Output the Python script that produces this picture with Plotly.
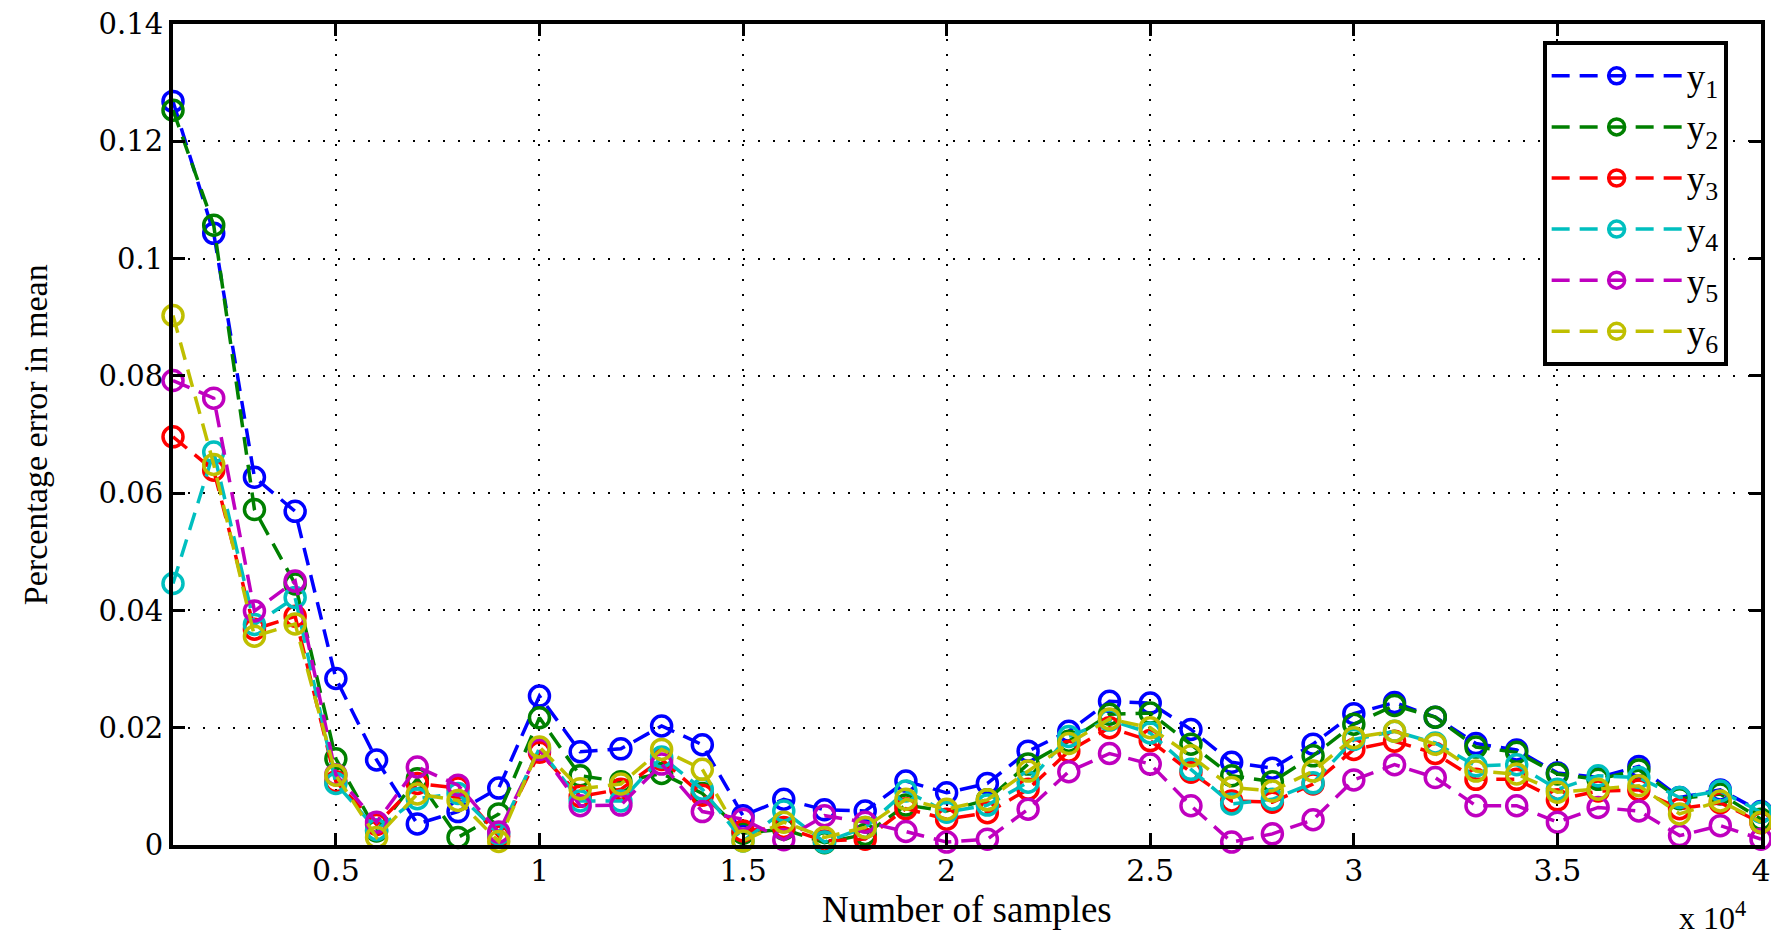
import plotly.graph_objects as go

samples = [1000 * k for k in range(1, 41)]

y1 = [0.1268, 0.1043, 0.0627, 0.0569, 0.0284, 0.0145, 0.0036, 0.0057, 0.0097, 0.0254,
      0.0159, 0.0164, 0.0203, 0.0171, 0.0050, 0.0078, 0.0060, 0.0058, 0.0109, 0.0089,
      0.0105, 0.0160, 0.0194, 0.0245, 0.0242, 0.0197, 0.0141, 0.0131, 0.0172, 0.0224,
      0.0243, 0.0218, 0.0173, 0.0162, 0.0123, 0.0115, 0.0134, 0.0081, 0.0094, 0.0057]
y2 = [0.1253, 0.1057, 0.0572, 0.0445, 0.0147, 0.0024, 0.0113, 0.0013, 0.0053, 0.0217,
      0.0118, 0.0108, 0.0122, 0.0088, 0.0020, 0.0027, 0.0004, 0.0018, 0.0068, 0.0058,
      0.0077, 0.0138, 0.0177, 0.0223, 0.0225, 0.0172, 0.0118, 0.0108, 0.0152, 0.0206,
      0.0238, 0.0218, 0.0167, 0.0158, 0.0121, 0.0112, 0.0128, 0.0079, 0.0087, 0.0044]
y3 = [0.0696, 0.0639, 0.0368, 0.0390, 0.0108, 0.0035, 0.0105, 0.0097, 0.0015, 0.0158,
      0.0083, 0.0095, 0.0146, 0.0085, 0.0024, 0.0030, 0.0007, 0.0010, 0.0062, 0.0044,
      0.0055, 0.0095, 0.0160, 0.0200, 0.0178, 0.0124, 0.0075, 0.0073, 0.0104, 0.0163,
      0.0177, 0.0156, 0.0112, 0.0112, 0.0077, 0.0092, 0.0094, 0.0062, 0.0072, 0.0038]
y4 = [0.0446, 0.0670, 0.0376, 0.0422, 0.0105, 0.0026, 0.0079, 0.0088, 0.0019, 0.0165,
      0.0075, 0.0075, 0.0150, 0.0095, 0.0007, 0.0058, 0.0005, 0.0030, 0.0092, 0.0056,
      0.0068, 0.0107, 0.0185, 0.0213, 0.0191, 0.0129, 0.0070, 0.0078, 0.0106, 0.0180,
      0.0194, 0.0174, 0.0135, 0.0137, 0.0095, 0.0118, 0.0115, 0.0081, 0.0092, 0.0056]
y5 = [0.0792, 0.0762, 0.0399, 0.0450, 0.0120, 0.0039, 0.0133, 0.0102, 0.0022, 0.0163,
      0.0067, 0.0068, 0.0138, 0.0057, 0.0044, 0.0009, 0.0050, 0.0039, 0.0023, 0.0005,
      0.0010, 0.0061, 0.0125, 0.0156, 0.0138, 0.0067, 0.0005, 0.0019, 0.0043, 0.0111,
      0.0137, 0.0115, 0.0067, 0.0067, 0.0039, 0.0064, 0.0058, 0.0016, 0.0033, 0.0010]
y6 = [0.0903, 0.0649, 0.0356, 0.0377, 0.0119, 0.0013, 0.0087, 0.0076, 0.0006, 0.0167,
      0.0096, 0.0104, 0.0163, 0.0129, 0.0007, 0.0039, 0.0013, 0.0030, 0.0078, 0.0061,
      0.0077, 0.0126, 0.0173, 0.0215, 0.0200, 0.0152, 0.0098, 0.0092, 0.0126, 0.0183,
      0.0194, 0.0172, 0.0126, 0.0121, 0.0090, 0.0095, 0.0101, 0.0053, 0.0075, 0.0039]

series = [y1, y2, y3, y4, y5, y6]
names = ["y<sub>1</sub>", "y<sub>2</sub>", "y<sub>3</sub>", "y<sub>4</sub>", "y<sub>5</sub>", "y<sub>6</sub>"]
colors = ["#0000FF", "#008000", "#FF0000", "#00BFBF", "#BF00BF", "#BFBF00"]

x_tickvals = [5000, 10000, 15000, 20000, 25000, 30000, 35000, 40000]
x_ticktext = ["0.5", "1", "1.5", "2", "2.5", "3", "3.5", "4"]
y_tickvals = [0, 0.02, 0.04, 0.06, 0.08, 0.10, 0.12, 0.14]
y_ticktext = ["0", "0.02", "0.04", "0.06", "0.08", "0.1", "0.12", "0.14"]

fig = go.Figure()
for ys, nm, col in zip(series, names, colors):
    fig.add_trace(go.Scatter(
        x=samples, y=ys, name=nm, mode="lines+markers",
        line=dict(color=col, width=3.5, dash="18px,10px"),
        marker=dict(symbol="circle-open", size=20, color=col, line=dict(width=3.5, color=col)),
        cliponaxis=False,
    ))

serif = "Liberation Serif"
fig.update_layout(
    width=1771, height=928,
    margin=dict(l=165, r=18, t=16, b=91, autoexpand=False),
    paper_bgcolor="white", plot_bgcolor="white",
    showlegend=True,
    legend=dict(
        x=0.979, xanchor="right", y=0.979, yanchor="top",
        bgcolor="white", bordercolor="black", borderwidth=4,
        font=dict(family=serif, size=37, color="black"),
        itemwidth=130, tracegroupgap=0,
    ),
    xaxis=dict(
        range=[1000, 40000], tickvals=x_tickvals, ticktext=x_ticktext,
        tickfont=dict(family="DejaVu Serif", size=30, color="black"),
        ticks="inside", ticklen=12, tickwidth=3, tickcolor="black",
        showline=True, linewidth=4, linecolor="black", mirror="ticks",
        showgrid=True, gridcolor="black", gridwidth=2, griddash="2px,13px",
        zeroline=False, automargin=False, ticklabeloverflow="allow",
        ticklabelstandoff=-4,
    ),
    yaxis=dict(
        range=[0, 0.14], tickvals=y_tickvals, ticktext=y_ticktext,
        tickfont=dict(family="DejaVu Serif", size=29, color="black"),
        ticks="inside", ticklen=12, tickwidth=3, tickcolor="black",
        showline=True, linewidth=4, linecolor="black", mirror="ticks",
        showgrid=True, gridcolor="black", gridwidth=2, griddash="2px,13px",
        zeroline=False, automargin=False, ticklabeloverflow="allow",
    ),
    annotations=[
        dict(text="Number of samples", xref="paper", yref="paper",
             x=0.5, y=-0.078, xanchor="center", yanchor="middle", showarrow=False,
             font=dict(family=serif, size=37, color="black")),
        dict(text="Percentage error in mean", xref="paper", yref="paper",
             x=-0.0865, y=0.5, xanchor="center", yanchor="middle", showarrow=False,
             textangle=-90, font=dict(family=serif, size=34, color="black")),
        dict(text="x 10<sup>4</sup>", xref="paper", yref="paper",
             x=0.992, y=-0.086, xanchor="right", yanchor="middle", showarrow=False,
             font=dict(family=serif, size=32, color="black")),
    ],
)

fig.write_html("out.html")
